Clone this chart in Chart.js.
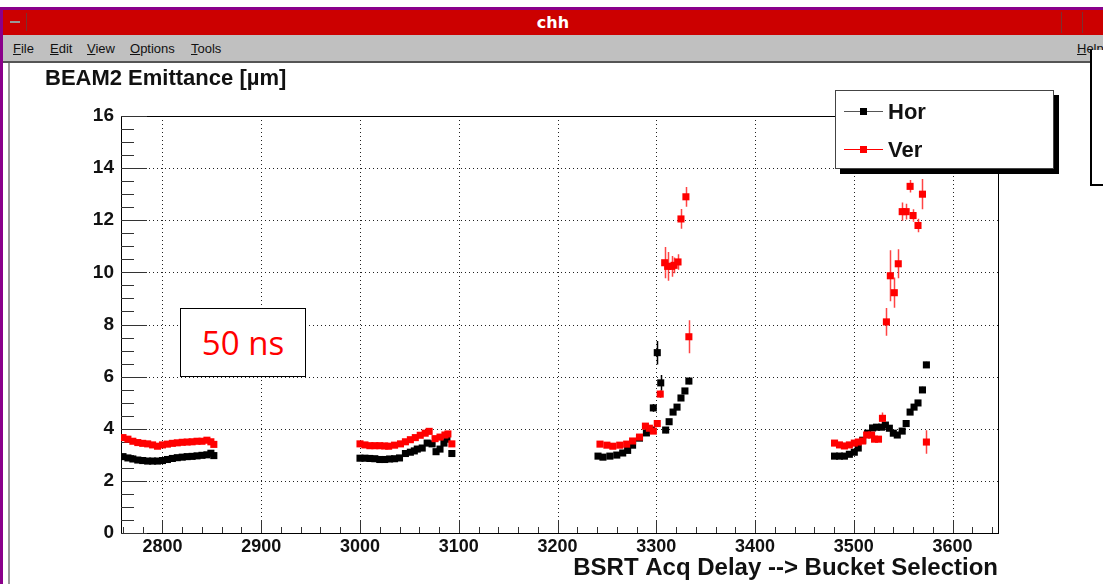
<!DOCTYPE html>
<html>
<head>
<meta charset="utf-8">
<title>chh</title>
<script src="https://cdn.jsdelivr.net/npm/chart.js@4.4.0/dist/chart.umd.min.js"></script>
<style>
  body { margin: 0; background: #fff; width: 1103px; height: 584px; overflow: hidden; position: relative; font-family: "Liberation Sans", Arial, sans-serif; }
  #emitChart { position: absolute; left: 0; top: 0; }
  .abs { position: absolute; z-index: 2; }
  #frameTop { left: 0; top: 7px; width: 1103px; height: 3px; background: #8a008a; }
  #frameLeft { left: 0; top: 7px; width: 3px; height: 577px; background: #8a008a; }
  #innerLeft { left: 8px; top: 63px; width: 2px; height: 521px; background: #9a9a9a; }
  #titleBar { left: 3px; top: 10px; width: 1100px; height: 25px; background: #cc0000; color: #fff; font: bold 16px "DejaVu Sans", sans-serif; text-align: center; line-height: 25px; }
  #tbLeft { left: 6px; top: 13px; width: 20px; height: 18px; border-right: 1px solid #7a3030; }
  #tbLeft:after { content: ""; position: absolute; left: 4px; top: 8px; width: 10px; height: 2px; background: #999; }
  #tbRight1 { left: 1061px; top: 12px; width: 20px; height: 21px; border-left: 1px solid #7a3030; border-right: 1px solid #7a3030; }
  #tbRight2 { left: 1086px; top: 12px; width: 17px; height: 21px; }
  #menuBar { left: 3px; top: 35px; width: 1100px; height: 26px; background: #c0c0c0; border-bottom: 2px solid #555; font: 13px "Liberation Sans Narrow", "Liberation Sans", sans-serif; color: #111; }
  #menuBar span { position: absolute; top: 6px; }
  #menuBar u { text-decoration: underline; }
  #sideBox { left: 1090px; top: 50px; width: 20px; height: 134px; background: #fff; border-left: 2px solid #000; border-bottom: 2px solid #000; }
  #plotTitle { left: 45px; top: 65px; font: bold 22px "Liberation Sans", Arial, sans-serif; color: #111; }
  #nsBox { left: 180px; top: 308px; width: 124px; height: 67px; border: 1px solid #000; background: #fff; color: #ff0000; font: 33px "Open Sans", "Liberation Sans", sans-serif; text-align: center; line-height: 67px; }
  #legend { left: 835px; top: 90px; width: 217px; height: 77px; border: 1px solid #444; background: #fff; box-shadow: 5px 5px 0 #000; }
  .entry { position: absolute; left: 0; width: 200px; height: 30px; }
  .entry .ln { position: absolute; left: 8px; top: 14px; width: 39px; height: 1px; }
  .entry .mk { position: absolute; left: 24px; top: 11px; width: 7px; height: 7px; }
  .entry .tx { position: absolute; left: 52px; top: 2px; font: bold 22px "Liberation Sans", Arial, sans-serif; color: #111; }
</style>
</head>
<body>
<canvas id="emitChart" width="1103" height="584"></canvas>

<div class="abs" id="frameTop"></div>
<div class="abs" id="frameLeft"></div>
<div class="abs" id="innerLeft"></div>
<div class="abs" id="titleBar">chh</div>
<div class="abs" id="tbLeft"></div>
<div class="abs" id="tbRight1"></div>
<div class="abs" id="tbRight2"></div>
<div class="abs" id="menuBar">
  <span style="left:10px"><u>F</u>ile</span>
  <span style="left:47px"><u>E</u>dit</span>
  <span style="left:84px"><u>V</u>iew</span>
  <span style="left:127px"><u>O</u>ptions</span>
  <span style="left:188px"><u>T</u>ools</span>
  <span style="left:1074px"><u>H</u>elp</span>
</div>
<div class="abs" id="sideBox"></div>
<div class="abs" id="plotTitle">BEAM2 Emittance [µm]</div>
<div class="abs" id="nsBox">50 ns</div>
<div class="abs" id="legend">
  <div class="entry" style="top:6px"><div class="ln" style="background:#555"></div><div class="mk" style="background:#000"></div><div class="tx">Hor</div></div>
  <div class="entry" style="top:44px"><div class="ln" style="background:#ff0000"></div><div class="mk" style="background:#ff0000"></div><div class="tx">Ver</div></div>
</div>

<script>
// ===== DỮ LIỆU =====
// Hor - chùm ngang (đen)
const horDelay = [
  2760, 2765, 2770, 2775, 2780, 2785, 2790, 2795, 2800, 2805, 2810, 2815, 2820, 2825, 2830, 2835, 2840, 2845, 2849, 2852,
  3000, 3005, 3010, 3015, 3020, 3025, 3030, 3035, 3040, 3046, 3051, 3055, 3058, 3063, 3068, 3073, 3077, 3081, 3085, 3088, 3093,
  3241, 3246, 3253, 3260, 3266, 3271, 3276, 3283, 3290, 3295, 3297, 3301, 3304.5, 3309.5, 3313, 3317, 3321, 3325, 3329, 3333,
  3480.5, 3485.5, 3490.5, 3495.5, 3500.5, 3504.5, 3509, 3514, 3519, 3523, 3528, 3532, 3536, 3540, 3544, 3549, 3553, 3557, 3561, 3565, 3569.5, 3573.5
];
const horEmit = [
  2.93, 2.88, 2.84, 2.8, 2.78, 2.76, 2.76, 2.76, 2.78, 2.82, 2.86, 2.89, 2.91, 2.93, 2.94, 2.96, 2.98, 3.0, 3.06, 2.97,
  2.87, 2.87, 2.86, 2.85, 2.82, 2.82, 2.84, 2.85, 2.88, 3.05, 3.1, 3.15, 3.22, 3.26, 3.45, 3.42, 3.12, 3.22, 3.45, 3.6, 3.05,
  2.95, 2.91, 2.95, 2.99, 3.07, 3.17, 3.37, 3.64, 3.84, 3.95, 4.8, 6.92, 5.76, 3.95, 4.27, 4.64, 4.83, 5.18, 5.45, 5.83,
  2.95, 2.95, 2.95, 3.02, 3.1, 3.26, 3.56, 3.83, 4.03, 4.06, 4.06, 4.14, 4.02, 3.83, 3.76, 3.91, 4.2, 4.64, 4.83, 4.99, 5.49, 6.45
];
const horErr = [
  0, 0, 0, 0, 0, 0, 0, 0, 0, 0, 0, 0, 0, 0, 0, 0, 0, 0, 0, 0,
  0, 0, 0, 0, 0, 0, 0, 0, 0, 0, 0, 0, 0, 0, 0, 0, 0, 0, 0, 0, 0,
  0, 0, 0, 0, 0, 0, 0, 0, 0, 0, 0.15, 0.45, 0.3, 0.12, 0.1, 0.1, 0.1, 0.1, 0.1, 0.12,
  0, 0, 0, 0, 0, 0, 0, 0, 0, 0, 0, 0, 0, 0, 0, 0.1, 0.1, 0.1, 0.1, 0.1, 0.12, 0.12
];

// Ver - chùm dọc (đỏ)
const verDelay = [
  2760, 2765, 2770, 2775, 2780, 2785, 2790, 2795, 2800, 2805, 2810, 2815, 2820, 2825, 2830, 2835, 2840, 2845, 2849, 2852,
  3000, 3005, 3010, 3015, 3020, 3025, 3029, 3035, 3041, 3046, 3051, 3056, 3061, 3066, 3070, 3076, 3081, 3086, 3089, 3093,
  3243, 3250, 3256, 3263, 3270, 3276, 3283, 3289, 3293, 3297, 3301, 3304, 3308.5, 3311.5, 3315.5, 3318, 3322, 3325, 3330, 3333,
  3480.5, 3485.5, 3490.5, 3495.5, 3500.5, 3504.5, 3509, 3513, 3518, 3521, 3525, 3529, 3533, 3537, 3541, 3545, 3549, 3553, 3557, 3560, 3565, 3569.5, 3573.5
];
const verEmit = [
  3.66, 3.6, 3.52, 3.47, 3.44, 3.42, 3.38, 3.33, 3.38, 3.41, 3.44, 3.46, 3.48, 3.49, 3.5, 3.52, 3.52, 3.56, 3.5, 3.4,
  3.42, 3.38, 3.35, 3.35, 3.35, 3.34, 3.33, 3.37, 3.42, 3.5, 3.58, 3.66, 3.75, 3.83, 3.9, 3.62, 3.68, 3.76, 3.8, 3.42,
  3.41, 3.37, 3.33, 3.37, 3.41, 3.53, 3.68, 4.1, 4.02, 3.91, 4.2, 5.33, 10.37, 10.23, 10.23, 10.27, 10.4, 12.05, 12.9, 7.53,
  3.45, 3.38, 3.34, 3.38, 3.45, 3.49, 3.53, 3.76, 3.76, 3.6, 3.6, 4.4, 8.1, 9.87, 9.22, 10.33, 12.33, 12.33, 13.3, 12.18, 11.8, 13.0, 3.49
];
const verErr = [
  0, 0, 0, 0, 0, 0, 0, 0, 0, 0, 0, 0, 0, 0, 0, 0, 0, 0, 0, 0,
  0, 0, 0, 0, 0, 0, 0, 0, 0, 0, 0, 0, 0, 0, 0, 0, 0, 0, 0, 0,
  0, 0, 0, 0, 0, 0, 0, 0, 0, 0, 0.1, 0.15, 0.6, 0.55, 0.4, 0.3, 0.3, 0.38, 0.38, 0.63,
  0, 0, 0, 0, 0, 0, 0, 0, 0, 0, 0, 0.22, 0.53, 0.98, 0.58, 0.56, 0.35, 0.3, 0.24, 0.24, 0.26, 0.58, 0.45
];

// Nhãn trục
const xTickValues = [2800, 2900, 3000, 3100, 3200, 3300, 3400, 3500, 3600];
const yTickValues = [0, 2, 4, 6, 8, 10, 12, 14, 16];
const xMin = 2758, xMax = 3646;
const yMin = 0, yMax = 16;

const FONT = '"Liberation Sans", Arial, sans-serif';

function toPoints(xs, ys) {
  return xs.map((v, i) => ({ x: v, y: ys[i] }));
}

// Vẽ lưới chấm, khung, vạch chia kiểu ROOT và thanh sai số
const rootFrame = {
  id: "rootFrame",
  beforeDatasetsDraw(chart) {
    const { ctx, chartArea: a, scales } = chart;
    const x = scales.x, y = scales.y;
    ctx.save();
    ctx.lineWidth = 1;

    // lưới chấm
    ctx.strokeStyle = "#222";
    ctx.setLineDash([1, 3]);
    ctx.beginPath();
    xTickValues.forEach((v) => {
      const px = Math.round(x.getPixelForValue(v)) + 0.5;
      ctx.moveTo(px, a.top);
      ctx.lineTo(px, a.bottom);
    });
    yTickValues.forEach((v) => {
      if (v === yMin || v === yMax) return;
      const py = Math.round(y.getPixelForValue(v)) + 0.5;
      ctx.moveTo(a.left, py);
      ctx.lineTo(a.right, py);
    });
    ctx.stroke();
    ctx.setLineDash([]);

    // khung
    ctx.strokeStyle = "#000";
    ctx.strokeRect(Math.round(a.left) + 0.5, Math.round(a.top) + 0.5, Math.round(a.right - a.left), Math.round(a.bottom - a.top));

    // vạch chia trục y (bên trong)
    ctx.strokeStyle = "#333";
    ctx.beginPath();
    for (let v = yMin; v <= yMax + 1e-6; v += 0.5) {
      const py = Math.round(y.getPixelForValue(v)) + 0.5;
      const len = Math.abs(v % 2) < 1e-6 ? 26 : 13;
      ctx.moveTo(a.left, py);
      ctx.lineTo(a.left + len, py);
    }
    // vạch chia trục x (bên trong)
    for (let v = 2760; v <= xMax; v += 20) {
      const px = Math.round(x.getPixelForValue(v)) + 0.5;
      const len = v % 100 === 0 ? 13 : 6;
      ctx.moveTo(px, a.bottom);
      ctx.lineTo(px, a.bottom - len);
    }
    ctx.stroke();

    // thanh sai số
    const drawErr = (xs, ys, es, color) => {
      ctx.strokeStyle = color;
      ctx.lineWidth = 1.5;
      ctx.beginPath();
      xs.forEach((v, i) => {
        if (!es[i]) return;
        const px = Math.round(x.getPixelForValue(v)) + 0.5;
        ctx.moveTo(px, y.getPixelForValue(ys[i] - es[i]));
        ctx.lineTo(px, y.getPixelForValue(ys[i] + es[i]));
      });
      ctx.stroke();
    };
    drawErr(horDelay, horEmit, horErr, "#000");
    drawErr(verDelay, verEmit, verErr, "#ff4444");
    ctx.restore();
  },
};

const ctx = document.getElementById("emitChart").getContext("2d");
const myChart = new Chart(ctx, {
  type: "scatter",
  data: {
    datasets: [
      {
        label: "Hor",
        data: toPoints(horDelay, horEmit),
        backgroundColor: "#000",
        borderWidth: 0,
        pointStyle: "rect",
        pointRadius: 5,
        order: 1,
      },
      {
        label: "Ver",
        data: toPoints(verDelay, verEmit),
        backgroundColor: "#ff0000",
        borderWidth: 0,
        pointStyle: "rect",
        pointRadius: 5,
        order: 0,
      },
    ],
  },
  options: {
    responsive: false,
    animation: false,
    events: [],
    layout: { padding: { left: 0, top: 116, right: 105, bottom: 0 } },
    plugins: { legend: { display: false }, tooltip: { enabled: false } },
    scales: {
      x: {
        type: "linear",
        min: xMin,
        max: xMax,
        afterBuildTicks: (scale) => {
          scale.ticks = xTickValues.map((v) => ({ value: v }));
        },
        afterFit: (scale) => {
          scale.height = 51;
        },
        grid: { display: false, drawTicks: false },
        border: { display: false },
        ticks: {
          color: "#111",
          padding: 3,
          maxRotation: 0,
          autoSkip: false,
          callback: (v) => String(v),
          font: { family: FONT, size: 18, weight: "bold" },
        },
        title: {
          display: true,
          text: "BSRT Acq Delay --> Bucket Selection",
          align: "end",
          color: "#111",
          padding: { top: 0, bottom: 1 },
          font: { family: FONT, size: 24, weight: "bold" },
        },
      },
      y: {
        type: "linear",
        min: yMin,
        max: yMax,
        afterBuildTicks: (scale) => {
          scale.ticks = yTickValues.map((v) => ({ value: v }));
        },
        afterFit: (scale) => {
          scale.width = 121;
        },
        grid: { display: false, drawTicks: false },
        border: { display: false },
        ticks: { color: "#111", padding: 7, font: { family: FONT, size: 19, weight: "bold" } },
      },
    },
  },
  plugins: [rootFrame],
});
</script>
</body>
</html>
